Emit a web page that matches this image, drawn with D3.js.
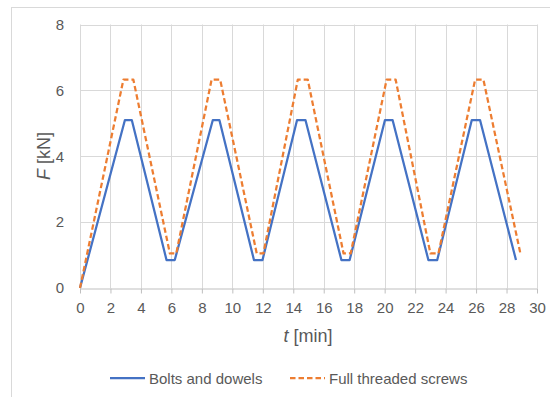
<!DOCTYPE html>
<html>
<head>
<meta charset="utf-8">
<script src="https://cdn.jsdelivr.net/npm/d3@7"></script>
<style>
  html, body { margin: 0; padding: 0; background: #fff; }
  svg { display: block; font-family: "Liberation Sans", Arial, sans-serif; }
</style>
</head>
<body>
<svg id="chart" width="550" height="397"></svg>
<script>
// Loading cycles: time [min] and force [kN] at each corner of the sawtooth
const boltsTime  = [0, 2.95, 3.4, 5.68, 6.22, 8.72, 9.15, 11.42, 11.98, 14.25, 14.8, 17.16, 17.7, 20.02, 20.52, 22.87, 23.45, 25.72, 26.26, 28.62];
const boltsForce = [0, 5.1, 5.1, 0.85, 0.85, 5.1, 5.1, 0.85, 0.85, 5.1, 5.1, 0.85, 0.85, 5.1, 5.1, 0.85, 0.85, 5.1, 5.1, 0.85];
const screwTime  = [0, 2.85, 3.5, 5.9, 6.32, 8.64, 9.2, 11.6, 12.04, 14.3, 14.95, 17.3, 17.77, 20.13, 20.72, 23.0, 23.53, 25.94, 26.48, 28.9];
const screwForce = [0, 6.33, 6.33, 1.05, 1.05, 6.33, 6.33, 1.05, 1.05, 6.33, 6.33, 1.05, 1.05, 6.33, 6.33, 1.05, 1.05, 6.33, 6.33, 1.07];
const xTicks = [0, 2, 4, 6, 8, 10, 12, 14, 16, 18, 20, 22, 24, 26, 28, 30];
const yTicks = [0, 2, 4, 6, 8];
const seriesNames = ["Bolts and dowels", "Full threaded screws"];
const seriesColors = ["#4472C4", "#ED7D31"];

const svg = d3.select("#chart");
const margin = { left: 80, right: 13, top: 24.5, bottom: 109 };
const W = 550, H = 397;
const textColor = "#595959";
const fontFamily = "Liberation Sans, Arial, sans-serif";

// chart frame
svg.append("rect")
  .attr("x", 11.5).attr("y", 7.5)
  .attr("width", 560).attr("height", 420)
  .attr("fill", "#fff").attr("stroke", "#d9d9d9").attr("stroke-width", 1);

const x = d3.scaleLinear().domain([0, 30]).range([margin.left, W - margin.right]);
const y = d3.scaleLinear().domain([0, 8]).range([H - margin.bottom, margin.top]);

const grid = svg.append("g");
// vertical gridlines
grid.selectAll("line.v").data(xTicks).join("line")
  .attr("x1", d => Math.round(x(d)) + 0.5).attr("x2", d => Math.round(x(d)) + 0.5)
  .attr("y1", y(8)).attr("y2", y(0))
  .attr("stroke", "#d9d9d9").attr("stroke-width", 1);
// horizontal gridlines
grid.selectAll("line.h").data(yTicks.filter(d => d > 0)).join("line")
  .attr("x1", x(0)).attr("x2", x(30))
  .attr("y1", d => Math.round(y(d)) + 0.5).attr("y2", d => Math.round(y(d)) + 0.5)
  .attr("stroke", "#d9d9d9").attr("stroke-width", 1);

// x axis with outward ticks
const xAxis = svg.append("g")
  .attr("transform", `translate(0,${Math.round(y(0)) + 0.5})`)
  .call(d3.axisBottom(x).tickValues(xTicks).tickSize(5).tickPadding(9).tickSizeOuter(0));
xAxis.select(".domain").attr("stroke", "#bfbfbf");
xAxis.selectAll(".tick line").attr("stroke", "#bfbfbf");
xAxis.selectAll(".tick text").attr("fill", textColor).attr("font-size", 15)
  .attr("font-family", fontFamily);

// y axis labels
const yAxis = svg.append("g")
  .attr("transform", `translate(${x(0)},0)`)
  .call(d3.axisLeft(y).tickValues(yTicks).tickSize(0).tickPadding(16));
yAxis.select(".domain").remove();
yAxis.selectAll(".tick text").attr("fill", textColor).attr("font-size", 15)
  .attr("font-family", fontFamily);

// axis titles
const xTitle = svg.append("text")
  .attr("x", 308).attr("y", 342)
  .attr("text-anchor", "middle").attr("fill", textColor).attr("font-size", 18);
xTitle.append("tspan").attr("font-style", "italic").text("t");
xTitle.append("tspan").text(" [min]");

const yTitle = svg.append("text")
  .attr("transform", "translate(50,156) rotate(-90)")
  .attr("text-anchor", "middle").attr("fill", textColor).attr("font-size", 18);
yTitle.append("tspan").attr("font-style", "italic").text("F");
yTitle.append("tspan").text(" [kN]");

// series lines
const line = d3.line().x(d => x(d[0])).y(d => y(d[1]));
const bolts = d3.zip(boltsTime, boltsForce);
const screws = d3.zip(screwTime, screwForce);

svg.append("path").datum(bolts)
  .attr("d", line).attr("fill", "none")
  .attr("stroke", seriesColors[0]).attr("stroke-width", 2.25)
  .attr("stroke-linejoin", "round");
svg.append("path").datum(screws)
  .attr("d", line).attr("fill", "none")
  .attr("stroke", seriesColors[1]).attr("stroke-width", 2.25)
  .attr("stroke-dasharray", "5.5,3").attr("stroke-linejoin", "round");

// legend
const legendItems = [
  { name: seriesNames[0], color: seriesColors[0], dash: null, x0: 110 },
  { name: seriesNames[1], color: seriesColors[1], dash: "5.5,3", x0: 290 }
];
const lg = svg.append("g");
legendItems.forEach(it => {
  lg.append("line")
    .attr("x1", it.x0).attr("x2", it.x0 + 35)
    .attr("y1", 378).attr("y2", 378)
    .attr("stroke", it.color).attr("stroke-width", 2.25)
    .attr("stroke-dasharray", it.dash);
  lg.append("text")
    .attr("x", it.x0 + 39).attr("y", 383.5)
    .attr("fill", textColor).attr("font-size", 15)
    .text(it.name);
});
</script>
</body>
</html>
